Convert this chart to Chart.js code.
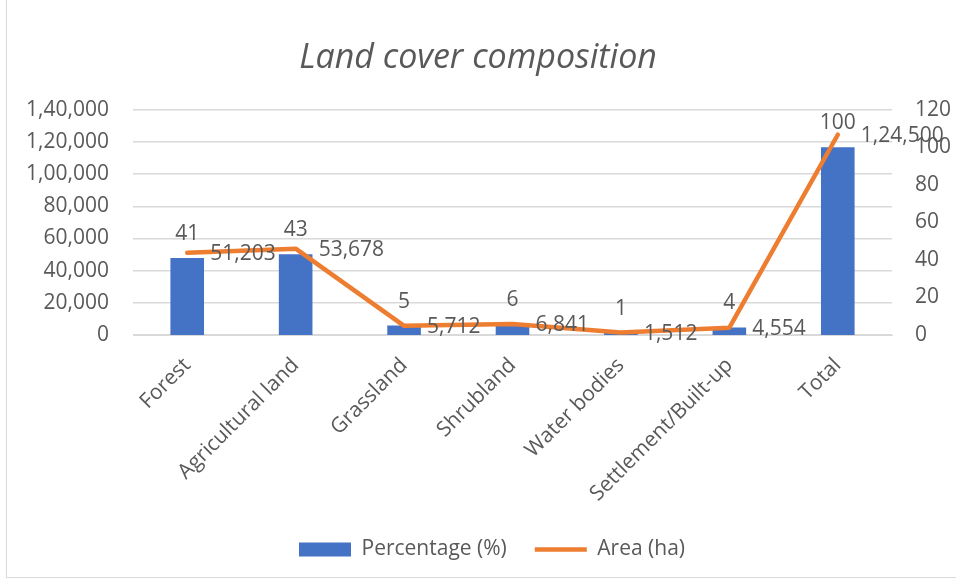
<!DOCTYPE html>
<html>
<head>
<meta charset="utf-8">
<script src="https://cdn.jsdelivr.net/npm/chart.js@4.4.1/dist/chart.umd.min.js"></script>
<style>
  html, body { margin: 0; padding: 0; background: #fff; }
  #wrap { position: relative; width: 956px; height: 582px; }
  #frame { position: absolute; left: 6px; top: 0; width: 960px; height: 577px;
           border-left: 1px solid #d9d9d9; border-bottom: 1px solid #d9d9d9; }
  canvas { position: absolute; left: 0; top: 0; }
</style>
</head>
<body>
<div id="wrap">
  <div id="frame"></div>
  <canvas id="chart" width="956" height="582"></canvas>
</div>
<script>
// Land cover composition - data
const categories = ['Forest', 'Agricultural land', 'Grassland', 'Shrubland', 'Water bodies', 'Settlement/Built-up', 'Total'];
const percentValues = [41, 43, 5, 6, 1, 4, 100];
const areaValues = [51203, 53678, 5712, 6841, 1512, 4554, 124500];
const areaTicks = { min: 0, max: 140000, step: 20000 };
const percentTicks = { min: 0, max: 120, step: 20 };

const TEXT = '#595959';
const GRID = '#d9d9d9';
const BLUE = '#4472c4';
const ORANGE = '#ed7d31';
const FONT = '"Open Sans", Lato, sans-serif';

// Indian grouping: 1,24,500
function fmtIN(n) {
    const s = String(Math.round(n));
    if (s.length <= 3) return s;
    const last3 = s.slice(-3);
    const rest = s.slice(0, -3).replace(/\B(?=(\d{2})+(?!\d))/g, ',');
    return rest + ',' + last3;
}

// value labels, like Excel's data labels
const dataLabels = {
    id: 'dataLabels',
    afterDatasetsDraw(chart) {
        const ctx = chart.ctx;
        ctx.save();
        ctx.font = '21px ' + FONT;
        ctx.fillStyle = TEXT;
        ctx.textBaseline = 'middle';
        chart.data.datasets.forEach((ds, di) => {
            const meta = chart.getDatasetMeta(di);
            meta.data.forEach((el, i) => {
                if (ds.type === 'bar') {
                    ctx.textAlign = 'center';
                    ctx.fillText(String(ds.data[i]), el.x, el.y - 24);
                } else {
                    ctx.textAlign = 'left';
                    ctx.fillText(fmtIN(ds.data[i]), el.x + 23, el.y + 1);
                }
            });
        });
        ctx.restore();
    }
};

// nudge the legend a little to the right, as in the original
const legendShift = {
    id: 'legendShift',
    afterLayout(chart) {
        if (chart.legend) {
            chart.legend.left += 14;
            chart.legend.right += 14;
        }
    }
};

Chart.defaults.font.family = FONT;
Chart.defaults.color = TEXT;

new Chart(document.getElementById('chart'), {
    data: {
        labels: categories,
        datasets: [{
            type: 'bar',
            label: 'Percentage (%)',
            data: percentValues,
            backgroundColor: BLUE,
            borderWidth: 0,
            yAxisID: 'y1',
            order: 1,
            pointStyle: 'rect',
            categoryPercentage: 1,
            barPercentage: 0.31
        }, {
            type: 'line',
            label: 'Area (ha)',
            data: areaValues,
            borderColor: ORANGE,
            backgroundColor: ORANGE,
            borderWidth: 4.5,
            borderCapStyle: 'round',
            borderJoinStyle: 'round',
            pointRadius: 0,
            tension: 0,
            yAxisID: 'y',
            order: 0,
            pointStyle: 'line'
        }]
    },
    options: {
        responsive: false,
        animation: false,
        layout: { padding: { top: 0, left: 0, right: 0, bottom: 12 } },
        plugins: {
            title: {
                display: true,
                text: 'Land cover composition',
                color: TEXT,
                font: { size: 34, style: 'italic', weight: 'normal' },
                padding: { top: 38, bottom: 31 }
            },
            legend: {
                position: 'bottom',
                labels: {
                    usePointStyle: true,
                    pointStyleWidth: 52,
                    boxHeight: 14,
                    padding: 28,
                    color: TEXT,
                    font: { size: 21 },
                    sort: (a, b) => a.datasetIndex - b.datasetIndex
                }
            },
            tooltip: { enabled: false }
        },
        scales: {
            x: {
                grid: { display: false },
                border: { color: GRID, width: 1 },
                ticks: { font: { size: 21 }, color: TEXT, minRotation: 45, maxRotation: 45, padding: 10 },
                afterFit: (s) => { s.height = 176; }
            },
            y: {
                position: 'left',
                min: areaTicks.min,
                max: areaTicks.max,
                grid: { color: GRID, lineWidth: 1.5, drawTicks: false },
                border: { display: false },
                ticks: {
                    stepSize: areaTicks.step,
                    font: { size: 21 },
                    color: TEXT,
                    padding: 24,
                    callback: (v) => fmtIN(v)
                },
                afterFit: (s) => { s.width = 133; }
            },
            y1: {
                position: 'right',
                min: percentTicks.min,
                max: percentTicks.max,
                grid: { display: false, drawTicks: false },
                border: { display: false },
                ticks: {
                    stepSize: percentTicks.step,
                    font: { size: 21 },
                    color: TEXT,
                    padding: 23
                },
                afterFit: (s) => { s.width = 64; }
            }
        }
    },
    plugins: [dataLabels, legendShift]
});
</script>
</body>
</html>
